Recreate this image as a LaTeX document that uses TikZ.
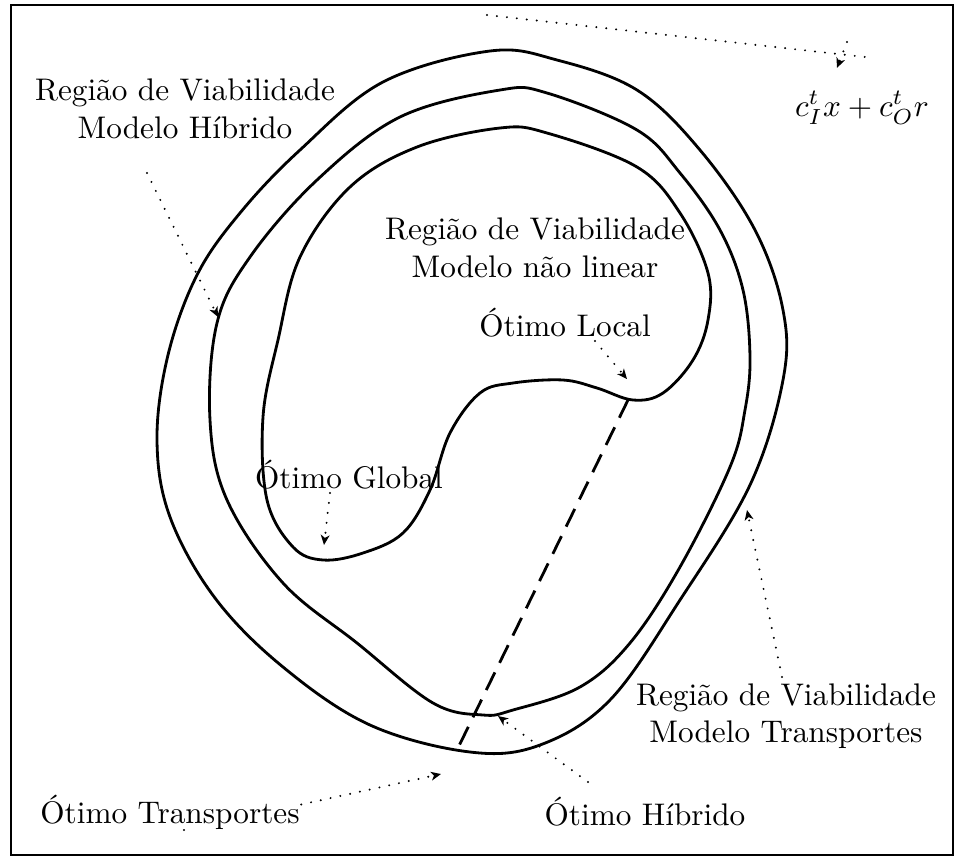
\documentclass[tikz,border=0pt]{standalone}
\usepackage{fontspec}
\usepackage{tikz}
\usetikzlibrary{arrows.meta}
\tikzset{
  regionline/.style={line width=0.9pt, line join=round},
  framebox/.style={line width=0.7pt},
  pointer/.style={
    line width=0.7pt, line cap=round, dash pattern=on 0pt off 3.2pt,
    -{Stealth[length=3.2pt, width=2.8pt, inset=0.9pt]}
  },
  dotline/.style={
    line width=0.7pt, line cap=round, dash pattern=on 0pt off 3.2pt
  },
  optpath/.style={line width=0.9pt, dash pattern=on 6.3pt off 3.4pt},
  regionlabel/.style={align=center, inner sep=0pt},
}
\begin{document}
\begin{tikzpicture}[x=0.32pt, y=-0.32pt]
  \useasboundingbox (0,0) rectangle (961,861);
  \draw[framebox] (11,5) rectangle (953,855);

  % regiao modelo transportes
  \draw[regionline] plot[smooth cycle, tension=0.6] coordinates {
    (490,51) (557,60) (637,90) (700,150) (755,230) (783,310) (783,380)
    (750,485) (680,600) (610,700) (540,745) (470,752) (370,725)
    (283,667) (215,598) (170,517) (157,440) (168,355) (197,275)
    (240,213) (300,150) (383,82)};
  % regiao modelo hibrido
  \draw[regionline] plot[smooth cycle, tension=0.6] coordinates {
    (500,90) (547,93) (637,130) (680,173) (720,230) (743,290) (750,357)
    (745,410) (730,467) (680,567) (630,643) (580,687) (513,710)
    (483,715) (433,703) (357,643) (283,583) (227,500) (210,420)
    (217,323) (250,257) (317,180) (400,117)};
  % regiao modelo nao linear
  \draw[regionline] plot[smooth cycle, tension=0.6] coordinates {
    (500,128) (547,133) (637,167) (680,213) (708,273) (708,320)
    (693,360) (663,393) (633,400) (597,388) (563,380) (513,383)
    (480,393) (450,433) (430,490) (403,533) (363,553) (323,560)
    (293,547) (267,500) (263,417) (278,340) (300,257) (350,187)
    (417,147)};

  \coordinate (localpt) at (628,400);
  \coordinate (transpt) at (456,752);
  \draw[optpath] (localpt) -- (transpt);

  % rotulos
  \node[regionlabel] (hibridoreg) at (185,109) {Região de Viabilidade\\Modelo Híbrido};
  \node[regionlabel] (naolinreg) at (535,248) {Região de Viabilidade\\Modelo não linear};
  \node[regionlabel] (transreg) at (786,716) {Região de Viabilidade\\Modelo Transportes};
  \node[regionlabel] (otlocal) at (565,323) {Ótimo Local};
  \node[regionlabel] (otglobal) at (349,475) {Ótimo Global};
  \node[regionlabel] (othibrido) at (645,812) {Ótimo Híbrido};
  \node[regionlabel] (custo) at (862,108) {$c_I^t x + c_O^t r$};

  % setas
  \coordinate (hibtail) at (147,173);
  \coordinate (hibtip) at (218,317);
  \draw[pointer] (hibtail) -- (hibtip);
  \coordinate (loctail) at (595,341);
  \coordinate (loctip) at (627,379);
  \draw[pointer] (loctail) -- (loctip);
  \coordinate (globtail) at (330,493);
  \coordinate (globtip) at (324,545);
  \draw[pointer] (globtail) -- (globtip);
  \coordinate (trregtail) at (782,677);
  \coordinate (trregtip) at (747,510);
  \draw[pointer] (trregtail) -- (trregtip);
  \coordinate (ohtail) at (588,782);
  \coordinate (ohtip) at (498,716);
  \draw[pointer] (ohtail) -- (ohtip);
  \coordinate (ottail) at (184,830);
  \coordinate (ottip) at (441,774);
  \draw[pointer] (ottail) -- (ottip);
  \node[regionlabel, fill=white] (ottrans) at (170,812) {Ótimo Transportes};

  % direcao de custo
  \coordinate (dirstart) at (487,15);
  \coordinate (dirend) at (865,57);
  \draw[dotline] (dirstart) -- (dirend);
  \coordinate (normtail) at (847,42);
  \coordinate (normtip) at (837,68);
  \draw[pointer] (normtail) -- (normtip);
\end{tikzpicture}
\end{document}
